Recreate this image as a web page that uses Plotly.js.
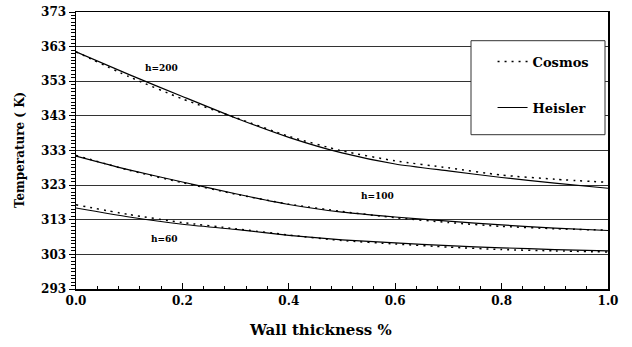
<!DOCTYPE html>
<html>
<head>
<meta charset="utf-8">
<script src="https://cdn.plot.ly/plotly-3.0.1.min.js"></script>
<style>html,body{margin:0;padding:0;background:#fff;}#chart{width:632px;height:347px;}</style>
</head>
<body>
<div id="chart"></div>
<script>
// Wall thickness fraction
const thickness = [0, 0.1, 0.2, 0.3, 0.4, 0.5, 0.6, 0.7, 0.8, 0.9, 1.0];
// Heisler (solid) temperatures, K
const heisler200 = [361.5, 354.9, 348.6, 342.4, 336.8, 332.3, 329.1, 327.1, 325.2, 323.6, 322.1];
const heisler100 = [331.4, 327.4, 323.9, 320.5, 317.4, 315.2, 313.8, 312.6, 311.5, 310.6, 309.9];
const heisler60  = [316.4, 313.8, 311.7, 310.2, 308.5, 307.2, 306.3, 305.5, 304.9, 304.4, 304.0];
// Cosmos (dotted) temperatures, K
const cosmos200 = [361.5, 354.3, 347.9, 342.5, 337.1, 332.9, 330.0, 328.0, 325.9, 324.7, 323.8];
const cosmos100 = [331.6, 327.3, 323.7, 320.4, 317.5, 315.4, 313.6, 312.2, 311.1, 310.4, 310.0];
const cosmos60  = [317.3, 314.5, 312.2, 310.4, 308.6, 307.0, 306.0, 305.1, 304.4, 304.0, 303.7];
// Curve labels
const curveLabels = ["h=200", "h=100", "h=60"];
const labelX = [0.16, 0.566, 0.166];
const labelY = [356.9, 319.8, 307.4];
// Axis ticks and titles
const yTicks = [293, 303, 313, 323, 333, 343, 353, 363, 373];
const xTicks = [0, 0.2, 0.4, 0.6, 0.8, 1.0];
const xTickText = ["0.0", "0.2", "0.4", "0.6", "0.8", "1.0"];
const xTitle = "Wall thickness %";
const yTitle = "Temperature ( K)";

const FONT = "DejaVu Serif";
const dotted = {color: "#000", width: 1.5, dash: "2px,5px"};
const solid = {color: "#000", width: 1.2};

const traces = [
  {x: thickness, y: cosmos200, mode: "lines", line: dotted, name: "Cosmos", legendgroup: "a", showlegend: true},
  {x: thickness, y: cosmos100, mode: "lines", line: dotted, name: "Cosmos", legendgroup: "a", showlegend: false},
  {x: thickness, y: cosmos60, mode: "lines", line: dotted, name: "Cosmos", legendgroup: "a", showlegend: false},
  {x: thickness, y: heisler200, mode: "lines", line: solid, name: "Heisler", legendgroup: "b", showlegend: true},
  {x: thickness, y: heisler100, mode: "lines", line: solid, name: "Heisler", legendgroup: "b", showlegend: false},
  {x: thickness, y: heisler60, mode: "lines", line: solid, name: "Heisler", legendgroup: "b", showlegend: false}
].map(t => Object.assign(t, {line: Object.assign({shape: "spline", smoothing: 0.6}, t.line), hoverinfo: "skip"}));

const annotations = curveLabels.map((t, i) => ({
  x: labelX[i], y: labelY[i], xref: "x", yref: "y", text: "<b>" + t + "</b>",
  showarrow: false, font: {family: FONT, size: 9, color: "#000"}
}));
annotations.push({
  x: 0.46, y: -0.148, xref: "paper", yref: "paper", xanchor: "center", yanchor: "middle",
  text: "<b>" + xTitle + "</b>",
  showarrow: false, font: {family: FONT, size: 15, color: "#000"}
});
annotations.push({
  x: -0.105, y: 0.502, xref: "paper", yref: "paper", xanchor: "center", yanchor: "middle",
  text: "<b>" + yTitle + "</b>", textangle: -90,
  showarrow: false, font: {family: FONT, size: 12, color: "#000"}
});

const layout = {
  width: 632, height: 347,
  margin: {l: 76, r: 24, t: 12, b: 58},
  paper_bgcolor: "#fff", plot_bgcolor: "#fff",
  showlegend: true,
  font: {family: FONT, color: "#000"},
  xaxis: {
    range: [0, 1], tickvals: xTicks, ticktext: xTickText,
    ticks: "inside", ticklen: 6, tickwidth: 1, tickcolor: "#000",
    minor: {dtick: 0.04, ticks: "inside", ticklen: 3, tickcolor: "#000", showgrid: false},
    showgrid: false, zeroline: false, showline: true, linecolor: "#000", linewidth: 1.5, mirror: true,
    tickfont: {family: FONT, size: 12, color: "#000", weight: "bold"}
  },
  yaxis: {
    range: [293, 373], tickvals: yTicks,
    ticks: "outside", ticklen: 6, tickwidth: 1, tickcolor: "#000",
    minor: {dtick: 1, tick0: 293, ticks: "outside", ticklen: 4, tickcolor: "#000", showgrid: false},
    showgrid: true, gridcolor: "#333", gridwidth: 1,
    zeroline: false, showline: true, linecolor: "#000", linewidth: 1.5, mirror: true,
    tickfont: {family: FONT, size: 12, color: "#000", weight: "bold"}
  },
  legend: {
    x: 0.783, y: 0.875, xanchor: "left", yanchor: "top",
    bgcolor: "rgba(0,0,0,0)", borderwidth: 0,
    traceorder: "grouped", tracegroupgap: 26,
    font: {family: FONT, size: 13, color: "#000", weight: "bold"}
  },
  shapes: [{
    type: "rect", xref: "paper", yref: "paper", layer: "above",
    x0: (471 - 76) / 532, x1: (605 - 76) / 532, y0: (289 - 134.7) / 277, y1: (289 - 40.7) / 277,
    line: {color: "#333", width: 1}, fillcolor: "#fff"
  }],
  annotations: annotations
};

Plotly.newPlot("chart", traces, layout, {displayModeBar: false, staticPlot: true});
</script>
</body>
</html>
